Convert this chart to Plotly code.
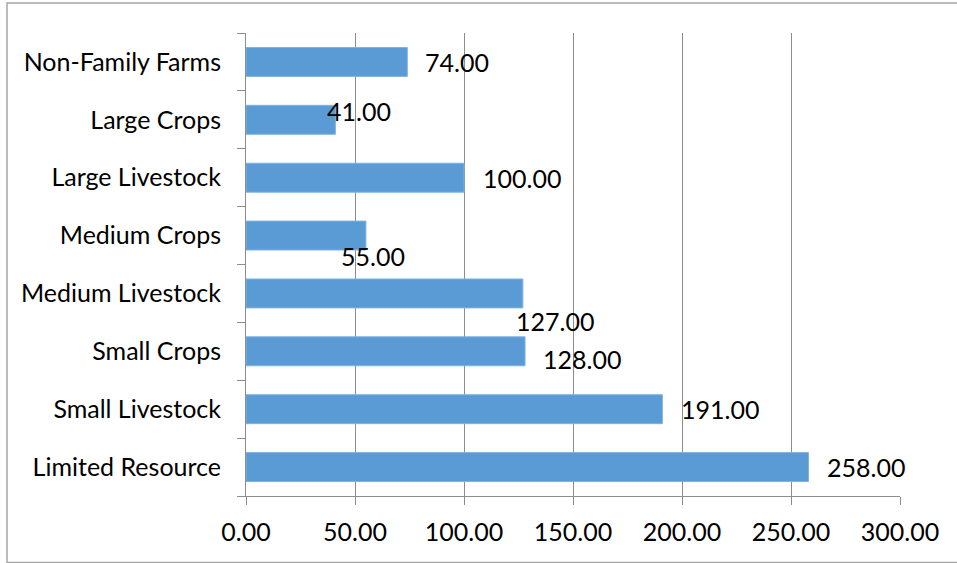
import plotly.graph_objects as go

categories = ["Limited Resource", "Small Livestock", "Small Crops", "Medium Livestock",
              "Medium Crops", "Large Livestock", "Large Crops", "Non-Family Farms"]
values = [258, 191, 128, 127, 55, 100, 41, 74]
label_texts = ["258.00", "191.00", "128.00", "127.00", "55.00", "100.00", "41.00", "74.00"]
# label offsets (pixels) relative to bar end: (xshift, yshift)
label_xshift = [17, 17, 16, -9, -27, 17, -10, 16]
label_yshift = [0, 0, -8, -28, -20, 0, 9, 0]
x_ticks = [0, 50, 100, 150, 200, 250, 300]
x_ticktext = ["0.00", "50.00", "100.00", "150.00", "200.00", "250.00", "300.00"]

W, H = 957, 563
L, R, T, B = 246, 57, 33, 67
FONT = "Lato"
FS = 25
GRID = "#8c8c8c"

fig = go.Figure()
fig.add_trace(go.Bar(
    x=values, y=categories, orientation="h",
    marker=dict(color="#5b9bd5", line=dict(color="#7fb2e0", width=1)),
    hoverinfo="x+y",
))

for c, v, t, dx, dy in zip(categories, values, label_texts, label_xshift, label_yshift):
    fig.add_annotation(x=v, y=c, text=t, showarrow=False, xanchor="left", yanchor="middle",
                       xshift=dx, yshift=dy, font=dict(family=FONT, size=FS, color="#000000"))

pw = W - L - R
ph = H - T - B
# outer chart border
fig.add_shape(type="rect", xref="paper", yref="paper",
              x0=(7 - L) / pw, x1=(W + 5 - L) / pw,
              y0=-(562.5 - T - ph) / ph, y1=1 + (T - 3) / ph,
              line=dict(color="#a6a6a6", width=1.5), fillcolor="rgba(0,0,0,0)", layer="below")

fig.update_layout(
    width=W, height=H,
    margin=dict(l=L, r=R, t=T, b=B, pad=0),
    paper_bgcolor="white", plot_bgcolor="white",
    bargap=0.5, showlegend=False,
    font=dict(family=FONT, size=FS, color="#000000"),
    xaxis=dict(range=[0, 300], tickvals=x_ticks, ticktext=x_ticktext,
               showgrid=True, gridcolor=GRID, gridwidth=1,
               showline=True, linecolor=GRID, linewidth=1,
               ticks="outside", ticklen=8, tickcolor=GRID, tickwidth=1,
               zeroline=False, ticklabelstandoff=6, fixedrange=True),
    yaxis=dict(type="category", categoryorder="array", categoryarray=categories,
               showgrid=False, showline=True, linecolor=GRID, linewidth=1,
               ticks="outside", ticklen=8, tickcolor=GRID, tickwidth=1,
               tickson="boundaries", ticklabelstandoff=19, fixedrange=True),
)

fig.write_html("out.html")
